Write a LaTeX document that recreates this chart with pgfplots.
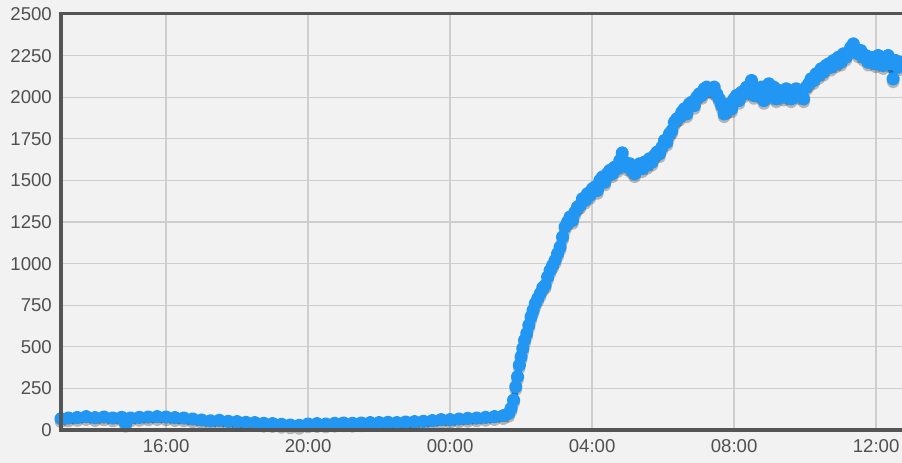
\documentclass[border=0pt]{standalone}
\usepackage{fontspec}
\setmainfont{Liberation Sans}
\usepackage{pgfplots}
\usepackage{pgfplotstable}
\pgfplotsset{compat=1.18}
\definecolor{bg}{RGB}{242,242,242}
\definecolor{gridc}{RGB}{206,206,206}
\definecolor{axc}{RGB}{85,85,85}
\definecolor{txt}{RGB}{80,80,80}
\definecolor{ptc}{RGB}{33,150,243}
\pgfplotstableread{
h v
13.04 68
13.25 72
13.50 75
13.75 80
14.00 74
14.25 78
14.50 72
14.75 76
14.86 40
15.00 72
15.25 76
15.50 78
15.75 80
16.00 78
16.25 74
16.50 72
16.75 66
17.00 60
17.25 55
17.50 58
17.75 52
18.00 50
18.25 46
18.50 44
18.75 40
19.00 38
19.25 34
19.50 30
19.75 28
20.00 36
20.25 38
20.50 36
20.75 40
21.00 42
21.25 40
21.50 42
21.75 44
22.00 44
22.25 46
22.50 44
22.75 48
23.00 50
23.25 52
23.50 56
23.75 62
24.00 62
24.25 66
24.50 70
24.75 72
25.00 76
25.25 80
25.50 86
25.65 100
25.72 130
25.79 180
25.85 260
25.90 320
25.95 390
26.00 440
26.05 490
26.10 540
26.16 580
26.22 630
26.28 680
26.34 720
26.40 760
26.47 790
26.54 820
26.61 855
26.68 870
26.75 920
26.82 960
26.89 990
26.96 1020
27.03 1060
27.10 1100
27.17 1160
27.24 1220
27.31 1250
27.38 1280
27.45 1260
27.52 1310
27.59 1340
27.66 1350
27.73 1390
27.80 1380
27.87 1420
27.94 1410
28.01 1450
28.08 1460
28.15 1440
28.22 1500
28.29 1520
28.36 1490
28.43 1540
28.50 1560
28.57 1540
28.64 1580
28.71 1570
28.78 1620
28.85 1665
28.92 1610
28.99 1580
29.06 1600
29.13 1560
29.20 1540
29.27 1580
29.34 1600
29.41 1570
29.48 1610
29.55 1590
29.62 1630
29.69 1610
29.76 1650
29.83 1670
29.90 1660
29.97 1700
30.04 1740
30.11 1730
30.18 1780
30.25 1800
30.32 1850
30.39 1870
30.46 1880
30.53 1910
30.60 1930
30.67 1900
30.74 1960
30.81 1970
30.88 1950
30.95 2000
31.02 2020
31.09 2010
31.16 2050
31.23 2060
31.30 2050
31.37 2040
31.44 2060
31.51 2020
31.58 1990
31.65 1950
31.72 1900
31.79 1920
31.86 1960
31.93 1930
32.00 1990
32.07 2010
32.14 1980
32.21 2030
32.28 2020
32.35 2060
32.42 2040
32.49 2100
32.56 2010
32.63 2040
32.70 2020
32.77 2060
32.84 1980
32.91 2030
32.98 2080
33.05 2010
33.12 2060
33.19 1990
33.26 2040
33.33 2020
33.40 2000
33.47 2050
33.54 2010
33.61 1990
33.68 2040
33.75 2050
33.82 2010
33.89 2040
33.96 1990
34.03 2060
34.10 2080
34.17 2110
34.24 2100
34.31 2140
34.38 2130
34.45 2170
34.52 2150
34.59 2190
34.66 2200
34.73 2180
34.80 2220
34.87 2200
34.94 2240
35.01 2210
35.08 2260
35.15 2240
35.22 2270
35.29 2300
35.36 2320
35.43 2290
35.50 2260
35.57 2280
35.64 2240
35.71 2250
35.78 2210
35.85 2240
35.92 2230
35.99 2200
36.06 2250
36.13 2220
36.20 2190
36.27 2230
36.34 2250
36.41 2200
36.48 2110
36.55 2220
36.62 2180
36.69 2210
36.76 2200
}\data
\begin{document}
\begin{tikzpicture}
\useasboundingbox[fill=bg] (-61bp,-33bp) rectangle (841bp,430bp);
\begin{axis}[
  name=ax,
  at={(0,0)}, anchor=south west,
  scale only axis,
  width=841bp, height=416bp,
  xmin=13.04, xmax=36.73,
  ymin=0, ymax=2500,
  axis background/.style={fill=bg},
  axis line style={draw=none},
  xtick={16,20,24,28,32,36},
  xticklabels={16:00,20:00,00:00,04:00,08:00,12:00},
  ytick={0,250,...,2500},
  major tick length=0pt,
  grid=major,
  major grid style={color=gridc, line width=1.3bp},
  tick label style={font=\fontsize{18.6bp}{22bp}\selectfont, text=txt},
  /pgf/number format/assume math mode=true,
  /pgf/number format/1000 sep={},
  yticklabel style={anchor=east, inner sep=0pt, xshift=-9bp},
  xticklabel style={anchor=north, inner sep=0pt, yshift=-9bp},
]
\addplot[black, opacity=0.25, line width=6bp, yshift=-3bp, line join=round, mark=*, mark size=3.4bp, mark options={draw=none, fill=black}] table[x=h, y=v] {\data};
\addplot[ptc, line width=6bp, line join=round, mark=*, mark size=3.7bp, mark options={draw=none, fill=ptc}] table[x=h, y=v] {\data};
\end{axis}
\draw[axc, line width=3bp] (ax.north east) -- (ax.north west) -- (ax.south west) -- (ax.south east);
\end{tikzpicture}
\end{document}
